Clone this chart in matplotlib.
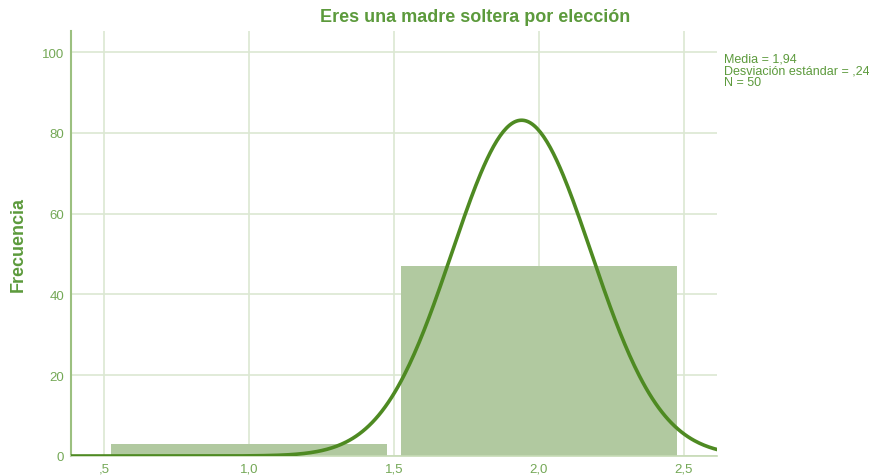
import numpy as np
import matplotlib.pyplot as plt

plt.rcParams['font.family'] = ['Liberation Sans', 'DejaVu Sans']

# histogram of "Eres una madre soltera por elección"
categories = [1, 2]
counts = [3, 47]
media = 1.94
desv = 0.24
n = 50

x_ticks = [0.5, 1.0, 1.5, 2.0, 2.5]
x_labels = [',5', '1,0', '1,5', '2,0', '2,5']
y_ticks = [0, 20, 40, 60, 80, 100]

green_txt = '#5c9a3c'
tick_txt = '#74a856'
green_line = '#4e8a22'
bar_col = '#b1c9a0'
grid_col = '#dce8d2'

fig = plt.figure(figsize=(8.7, 4.77), dpi=100)
ax = fig.add_axes([71/870, 20/477, 646/870, 425/477])

ax.bar(categories, counts, width=0.95, color=bar_col, zorder=2)

# normal curve scaled by N * bin width
xs = np.linspace(0.386, 2.614, 400)
ys = n * 1.0 / (desv * np.sqrt(2 * np.pi)) * np.exp(-0.5 * ((xs - media) / desv) ** 2)
ax.plot(xs, ys, color=green_line, lw=2.6, zorder=3)

ax.set_xlim(0.386, 2.614)
ax.set_ylim(0, 105.2)
ax.set_xticks(x_ticks)
ax.set_xticklabels(x_labels)
ax.set_yticks(y_ticks)
ax.grid(True, color=grid_col, lw=1.2, zorder=0)
ax.set_axisbelow(True)
ax.tick_params(length=0, colors=tick_txt, labelsize=9.5, pad=5)

for s in ['top', 'right']:
    ax.spines[s].set_visible(False)
ax.spines['left'].set_color('#9cc080')
ax.spines['left'].set_linewidth(1.5)
ax.spines['bottom'].set_color('#c6dab5')
ax.spines['bottom'].set_linewidth(1.2)

ax.set_ylabel('Frecuencia', color=green_txt, fontsize=13, fontweight='bold', labelpad=11)
fig.text(475/870, 1 - 18/477, 'Eres una madre soltera por elección', color=green_txt,
         fontsize=13, fontweight='bold', ha='center', va='center')

fig.text(724/870, 1 - 54/477,
         'Media = 1,94\nDesviación estándar = ,24\nN = 50',
         color=green_txt, fontsize=9, ha='left', va='top', linespacing=0.95)

fig.savefig('out.png', dpi=100)
